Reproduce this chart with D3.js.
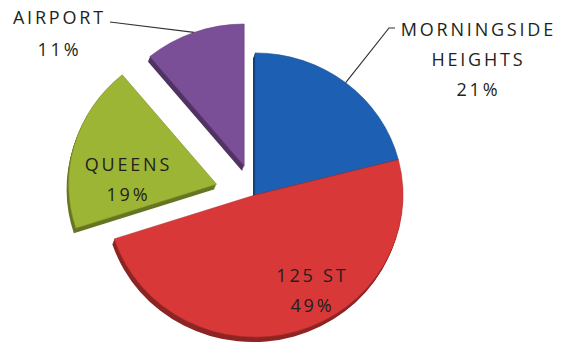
<!DOCTYPE html>
<html>
<head>
<meta charset="utf-8">
<script src="https://cdn.jsdelivr.net/npm/d3@7"></script>
<style>
  html, body { margin: 0; padding: 0; background: #fff; }
  svg { display: block; }
  text { font-family: "Open Sans", "DejaVu Sans", sans-serif; fill: #231f20; font-weight: 500; }
</style>
</head>
<body>
<svg id="chart" width="563" height="353"></svg>
<script>
// Trip destinations (share of trips, %)
const destinations = ["MORNINGSIDE HEIGHTS", "125 ST", "QUEENS", "AIRPORT"];
const shares = [21, 49, 19, 11];
const sliceColors = ["#1d60b3", "#d83838", "#9db535", "#7b4f97"];
// How far each wedge is pulled out of the pie, px
const explode = [0, 0, 40, 32];

const W = 563, H = 353;
const cx = 255, cy = 195;
const R = 148;
const tilt = 0.96;   // slight vertical squash for the 3-D look
const depth = 5;     // thickness of the pie, px

const svg = d3.select("#chart");

const pie = d3.pie().sort(null).value(d => d.value).startAngle(0).endAngle(2 * Math.PI);
const arcs = pie(shares.map((v, i) => ({ value: v, name: destinations[i], color: sliceColors[i], pull: explode[i] })));
const arc = d3.arc().innerRadius(0).outerRadius(R);

// offset of a point at angle a and radius r, in screen coordinates
const polar = (a, r) => [r * Math.sin(a), -r * Math.cos(a) * tilt];

const root = svg.append("g").attr("transform", `translate(${cx},${cy})`);

const slices = root.selectAll("g.slice")
  .data(arcs)
  .join("g")
  .attr("class", "slice")
  .attr("transform", d => {
    const mid = (d.startAngle + d.endAngle) / 2;
    const [dx, dy] = polar(mid, d.data.pull);
    return `translate(${dx},${dy})`;
  });

// side walls: stacked darker copies shifted downward
slices.each(function (d) {
  const g = d3.select(this);
  const side = d3.color(d.data.color).darker(1.2);
  for (let k = depth; k >= 1; k--) {
    g.append("path")
      .attr("d", arc(d))
      .attr("transform", `translate(${-0.4 * k},${k}) scale(1,${tilt})`)
      .attr("fill", side);
  }
});

// top faces
slices.append("path")
  .attr("d", d => arc(d))
  .attr("transform", `scale(1,${tilt})`)
  .attr("fill", d => d.data.color)
  .attr("stroke", d => d3.color(d.data.color).darker(0.6))
  .attr("stroke-width", 0.6);

// where a leader line meets a wedge: outer arc at its mid angle
function rimPoint(d) {
  const mid = (d.startAngle + d.endAngle) / 2;
  const [ox, oy] = polar(mid, d.data.pull);
  const [px, py] = polar(mid, R);
  return [cx + ox + px, cy + oy + py];
}

const labelFont = 18;
const spacing = 2.8;

function label(lines, x, y0, lineGap) {
  const t = svg.append("text")
    .attr("text-anchor", "middle")
    .style("font-size", labelFont + "px")
    .style("letter-spacing", spacing + "px");
  lines.forEach((s, i) => {
    t.append("tspan")
      .attr("x", x + spacing / 2)
      .attr("y", y0 + i * lineGap)
      .text(s);
  });
}

// MORNINGSIDE HEIGHTS
const mh = rimPoint(arcs[0]);
svg.append("polyline")
  .attr("points", [[395, 28], [389, 28], mh].map(p => p.join(",")).join(" "))
  .attr("fill", "none").attr("stroke", "#333").attr("stroke-width", 1.2);
label(["MORNINGSIDE", "HEIGHTS", shares[0] + "%"], 477, 36, 30);

// AIRPORT
const ap = rimPoint(arcs[3]);
svg.append("line")
  .attr("x1", 110).attr("y1", 22).attr("x2", ap[0]).attr("y2", ap[1])
  .attr("stroke", "#333").attr("stroke-width", 1.2);
label(["AIRPORT", shares[3] + "%"], 58, 24, 32);

// QUEENS
label(["QUEENS", shares[2] + "%"], 127, 171, 30);

// 125 ST
label(["125 ST", shares[1] + "%"], 311, 282, 30);
</script>
</body>
</html>
